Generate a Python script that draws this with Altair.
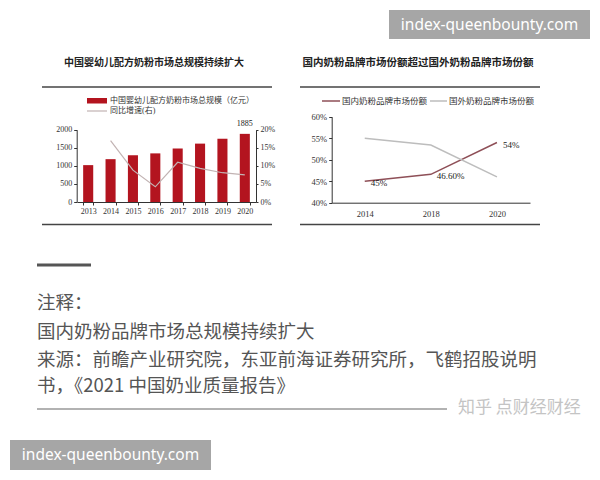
import altair as alt
import pandas as pd

# ---------------- data ----------------
years = ["2013", "2014", "2015", "2016", "2017", "2018", "2019", "2020"]
market_size = [1020, 1185, 1290, 1345, 1480, 1615, 1750, 1885]
growth_years = ["2014", "2015", "2016", "2017", "2018", "2019", "2020"]
growth_pct = [17.0, 8.8, 4.2, 11.0, 9.3, 8.1, 7.5]
share_years = ["2014", "2018", "2020"]
domestic_share = [45.0, 46.6, 54.0]
foreign_share = [55.0, 53.4, 46.0]
domestic_labels = ["45%", "46.60%", "54%"]
series_names = ["国内奶粉品牌市场份额", "国外奶粉品牌市场份额"]
left_ticks = [0, 500, 1000, 1500, 2000]
right_ticks = [0, 0.05, 0.10, 0.15, 0.20]
share_ticks = [0.40, 0.45, 0.50, 0.55, 0.60]

bars_df = pd.DataFrame({"year": years, "size": market_size})
growth_df = pd.DataFrame({"year": growth_years, "growth": [g / 100 for g in growth_pct]})
share_df = pd.DataFrame({
    "year": share_years * 2,
    "share": [v / 100 for v in domestic_share] + [v / 100 for v in foreign_share],
    "series": [series_names[0]] * 3 + [series_names[1]] * 3,
})
dom_df = pd.DataFrame({"year": share_years, "share": [v / 100 for v in domestic_share],
                       "label": domestic_labels})
one = pd.DataFrame({"k": [0]})

# ---------------- styling ----------------
W, H = 584, 464
def X(v):
    return v - 8
def Y(v):
    return v - 8

SERIF = "Liberation Serif, Noto Sans CJK SC"
SANS = "Noto Sans CJK SC"
RED = "#b3141f"
GROWTH = "#c2b3b3"
DOM = "#8e4f57"
FOR = "#bdbdbd"
INK = "#222222"

# ---------------- left chart ----------------
bar_x = alt.Scale(domain=years, range=[X(77), X(256)], paddingInner=0.55, paddingOuter=0.275)
size_y = alt.Scale(domain=[0, 2000], range=[Y(202), Y(129.7)])

bars = alt.Chart(bars_df).mark_bar(color=RED).encode(
    x=alt.X("year:N", scale=bar_x,
            axis=alt.Axis(orient="bottom", offset=Y(202) - H, title=None, labelAngle=0,
                          labelFontSize=8, tickBand="extent", tickSize=3, labelPadding=2)),
    y=alt.Y("size:Q", scale=size_y,
            axis=alt.Axis(orient="left", offset=-X(76.7), values=left_ticks, format="d",
                          title=None, grid=False, tickSize=3, labelFontSize=8, labelPadding=2)),
)

growth_line = alt.Chart(growth_df).mark_line(color=GROWTH, strokeWidth=1.2).encode(
    x=alt.X("year:N", scale=alt.Scale(type="point", domain=years,
                                      range=[X(77) + 11.2, X(256) - 11.2], padding=0),
            axis=None),
    y=alt.Y("growth:Q", scale=alt.Scale(domain=[0, 0.2], range=[Y(202), Y(129.7)]),
            axis=alt.Axis(orient="right", offset=X(256) - W, values=right_ticks, format=".0%",
                          title=None, grid=False, tickSize=2, labelFontSize=8, labelPadding=2)),
)

total_label = alt.Chart(bars_df).transform_filter(alt.datum.year == "2020").mark_text(
    baseline="bottom", dy=-6, fontSize=8, font=SERIF, color=INK).encode(
    x=alt.X("year:N", scale=bar_x, axis=None),
    y=alt.Y("size:Q", scale=size_y, axis=None),
    text="size:Q",
)

# ---------------- right chart ----------------
share_x = alt.Scale(type="point", domain=share_years, range=[X(331.7), X(530)], padding=0.5)
share_y = alt.Scale(domain=[0.4, 0.6], range=[Y(202.7), Y(116.7)])

share_lines = alt.Chart(share_df).mark_line(strokeWidth=1.5).encode(
    x=alt.X("year:N", scale=share_x,
            axis=alt.Axis(orient="bottom", offset=Y(202.7) - H, title=None, labelAngle=0,
                          ticks=False, labelFontSize=8.5, labelPadding=7)),
    y=alt.Y("share:Q", scale=share_y,
            axis=alt.Axis(orient="left", offset=-X(331.7), values=share_ticks, format=".0%",
                          title=None, grid=False, tickSize=3, labelFontSize=8.5, labelPadding=2)),
    color=alt.Color("series:N", scale=alt.Scale(domain=series_names, range=[DOM, FOR]),
                    legend=None),
)

share_labels = alt.Chart(dom_df).mark_text(align="left", dx=6, dy=2, fontSize=9,
                                           font=SERIF, color=INK).encode(
    x=alt.X("year:N", scale=share_x, axis=None),
    y=alt.Y("share:Q", scale=share_y, axis=None),
    text="label:N",
)

# ---------------- decorations ----------------
def txt(s, x, y, size, color, font, align="left", weight="normal"):
    return alt.Chart(one).mark_text(align=align, baseline="middle", fontSize=size, font=font,
                                    color=color, fontWeight=weight).encode(
        x=alt.value(x), y=alt.value(y), text=alt.value(s))

def hline(x1, x2, y, color, w):
    return alt.Chart(one).mark_rule(color=color, strokeWidth=w).encode(
        x=alt.value(x1), x2=alt.value(x2), y=alt.value(y))

def box(x1, x2, y1, y2, color):
    return alt.Chart(one).mark_rect(color=color).encode(
        x=alt.value(x1), x2=alt.value(x2), y=alt.value(y1), y2=alt.value(y2))

decor = [
    # chart titles
    txt("中国婴幼儿配方奶粉市场总规模持续扩大", X(154), Y(63), 10, INK, SERIF, "center", "bold"),
    txt("国内奶粉品牌市场份额超过国外奶粉品牌市场份额", X(418), Y(63), 10.5, INK, SERIF, "center", "bold"),
    # frame rules
    hline(X(42), X(272), Y(87), "#444444", 1.5),
    hline(X(42), X(272), Y(224.5), "#444444", 1.5),
    hline(X(300), X(540), Y(87), "#444444", 1.5),
    hline(X(300), X(540), Y(224.5), "#444444", 1.5),
    # left legend
    box(X(87), X(107), Y(98), Y(103.5), RED),
    txt("中国婴幼儿配方奶粉市场总规模（亿元）", X(110), Y(101), 8, "#333333", SERIF),
    hline(X(87), X(107), Y(111), GROWTH, 1.2),
    txt("同比增速(右)", X(110), Y(111), 8, "#333333", SERIF),
    # right legend
    hline(X(322), X(340), Y(101), DOM, 1.5),
    txt(series_names[0], X(342), Y(101), 8.5, "#333333", SERIF),
    hline(X(430), X(447), Y(101), FOR, 1.5),
    txt(series_names[1], X(449), Y(101), 8.5, "#333333", SERIF),
    # notes
    hline(X(37), X(91), Y(265), "#555555", 3),
    txt("注释：", X(37), Y(303), 18.5, "#555555", SANS),
    txt("国内奶粉品牌市场总规模持续扩大", X(37), Y(332), 18.5, "#555555", SANS),
    txt("来源：前瞻产业研究院，东亚前海证券研究所，飞鹤招股说明", X(37), Y(360), 18.5, "#555555", SANS),
    txt("书，《2021 中国奶业质量报告》", X(37), Y(386), 18.5, "#555555", SANS),
    hline(X(37), X(447), Y(409), "#999999", 1.5),
    txt("知乎 点财经财经", X(458), Y(408), 17, "#c4c4c4", SANS),
    # watermarks
    box(X(389), X(590), Y(10), Y(39), "#a6a6a6"),
    txt("index-queenbounty.com", X(489.5), Y(24.5), 15.5, "white", "Noto Sans", "center"),
    box(X(10), X(211), Y(440), Y(470), "#a6a6a6"),
    txt("index-queenbounty.com", X(110.5), Y(455), 15.5, "white", "Noto Sans", "center"),
]

chart = alt.layer(bars, growth_line, total_label, share_lines, share_labels, *decor).resolve_scale(
    x="independent", y="independent", color="independent"
).resolve_axis(
    x="independent", y="independent"
).properties(
    width=W, height=H, autosize=alt.AutoSizeParams(type="none"), padding=0, background="white"
).configure_view(stroke=None).configure_axis(
    labelFont=SERIF, labelColor="#333333", domainColor="#333333", tickColor="#333333"
)

chart.save("out.html", embed_options={"renderer": "svg", "actions": False})
